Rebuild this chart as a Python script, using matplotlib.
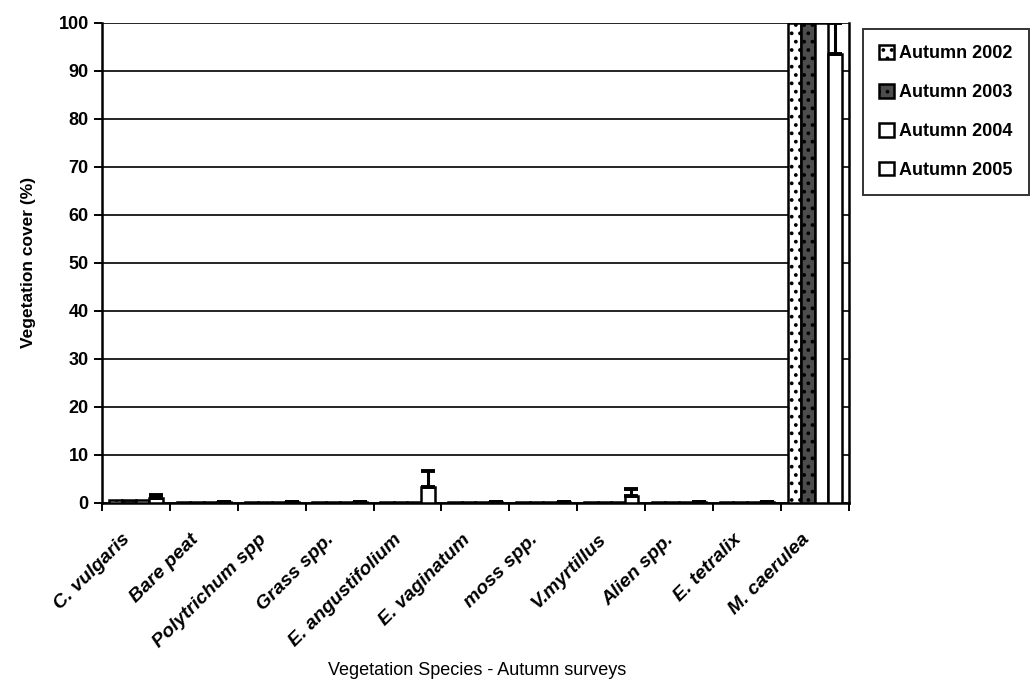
import matplotlib
matplotlib.use("Agg")
import matplotlib.pyplot as plt
import matplotlib.transforms as mtransforms
import numpy as np

plt.rcParams['font.family'] = ['Liberation Sans', 'DejaVu Sans']
plt.rcParams['hatch.linewidth'] = 1.5

categories = ["C. vulgaris", "Bare peat", "Polytrichum spp", "Grass spp.",
              "E. angustifolium", "E. vaginatum", "moss spp.", "V.myrtillus",
              "Alien spp.", "E. tetralix", "M. caerulea"]
series = ["Autumn 2002", "Autumn 2003", "Autumn 2004", "Autumn 2005"]
v2002 = [0.5, 0.2, 0.1, 0.1, 0.1, 0.2, 0.1, 0.1, 0.2, 0.1, 100.0]
v2003 = [0.5, 0.2, 0.1, 0.1, 0.2, 0.1, 0.1, 0.1, 0.2, 0.1, 100.0]
v2004 = [0.6, 0.1, 0.1, 0.1, 0.2, 0.1, 0.1, 0.1, 0.1, 0.1, 100.0]
v2005 = [1.0, 0.1, 0.1, 0.1, 3.3, 0.1, 0.1, 1.5, 0.1, 0.1, 93.5]
e2005 = [0.6, 0.0, 0.0, 0.0, 3.3, 0.0, 0.0, 1.4, 0.0, 0.0, 6.5]
yticks = [0, 10, 20, 30, 40, 50, 60, 70, 80, 90, 100]

fig = plt.figure(figsize=(10.30, 6.86), dpi=100)
ax = fig.add_axes([0.099, 0.267, 0.725, 0.700])

x = np.arange(len(categories))
bw = 0.2
hatches = ['..', '..', '', '']
faces = ['white', '0.3', 'white', 'white']
vals = [v2002, v2003, v2004, v2005]
handles = []
for i, (s, v, h, fc) in enumerate(zip(series, vals, hatches, faces)):
    pos = x + (i - 1.5) * bw
    kw = {}
    if i == 3:
        kw = dict(yerr=[np.zeros(len(e2005)), e2005],
                  error_kw=dict(ecolor='black', elinewidth=2.2, capsize=5, capthick=2.8))
    b = ax.bar(pos, v, bw, color=fc, edgecolor='black', linewidth=1.8,
               hatch=h, label=s, zorder=3, **kw)
    handles.append(b)

ax.set_xlim(-0.5, len(categories) - 0.5)
ax.set_ylim(0, 100)
ax.set_yticks(yticks)
ax.set_yticklabels([str(t) for t in yticks], fontsize=13, fontweight='bold')
ax.yaxis.grid(True, color='black', linewidth=1.2, zorder=0)
ax.set_axisbelow(True)

ax.set_xticks(np.arange(len(categories) + 1) - 0.5)
ax.set_xticklabels([])
ax.tick_params(axis='x', which='major', length=6, width=1.4, direction='out')
ax.tick_params(axis='y', length=6, width=1.4, direction='out')

offset = mtransforms.ScaledTranslation(-14 / 100, -28 / 100, fig.dpi_scale_trans)
trans = ax.get_xaxis_transform() + offset
for xi, cat in zip(x, categories):
    ax.text(xi, 0, cat, transform=trans, rotation=45, ha='right', va='top',
            rotation_mode='anchor', fontsize=14, style='italic',
            fontweight='bold', clip_on=False)

for side in ['left', 'bottom', 'right']:
    ax.spines[side].set_linewidth(1.8)
ax.spines['top'].set_visible(False)

ax.set_ylabel("Vegetation cover (%)", fontsize=12.5, fontweight='bold', labelpad=16)
fig.text(0.463, 0.022, "Vegetation Species - Autumn surveys", ha='center',
         va='center', fontsize=13)

leg = fig.legend(handles=handles, labels=series, loc='upper left',
                 bbox_to_anchor=(0.838, 0.958), frameon=True, fancybox=False,
                 edgecolor='black',
                 prop={'weight': 'bold', 'size': 13}, handlelength=0.8,
                 handleheight=0.8, handletextpad=0.3, labelspacing=1.2,
                 borderpad=0.9, borderaxespad=0)
leg.get_frame().set_linewidth(1.4)

fig.savefig("out.png", dpi=100)
